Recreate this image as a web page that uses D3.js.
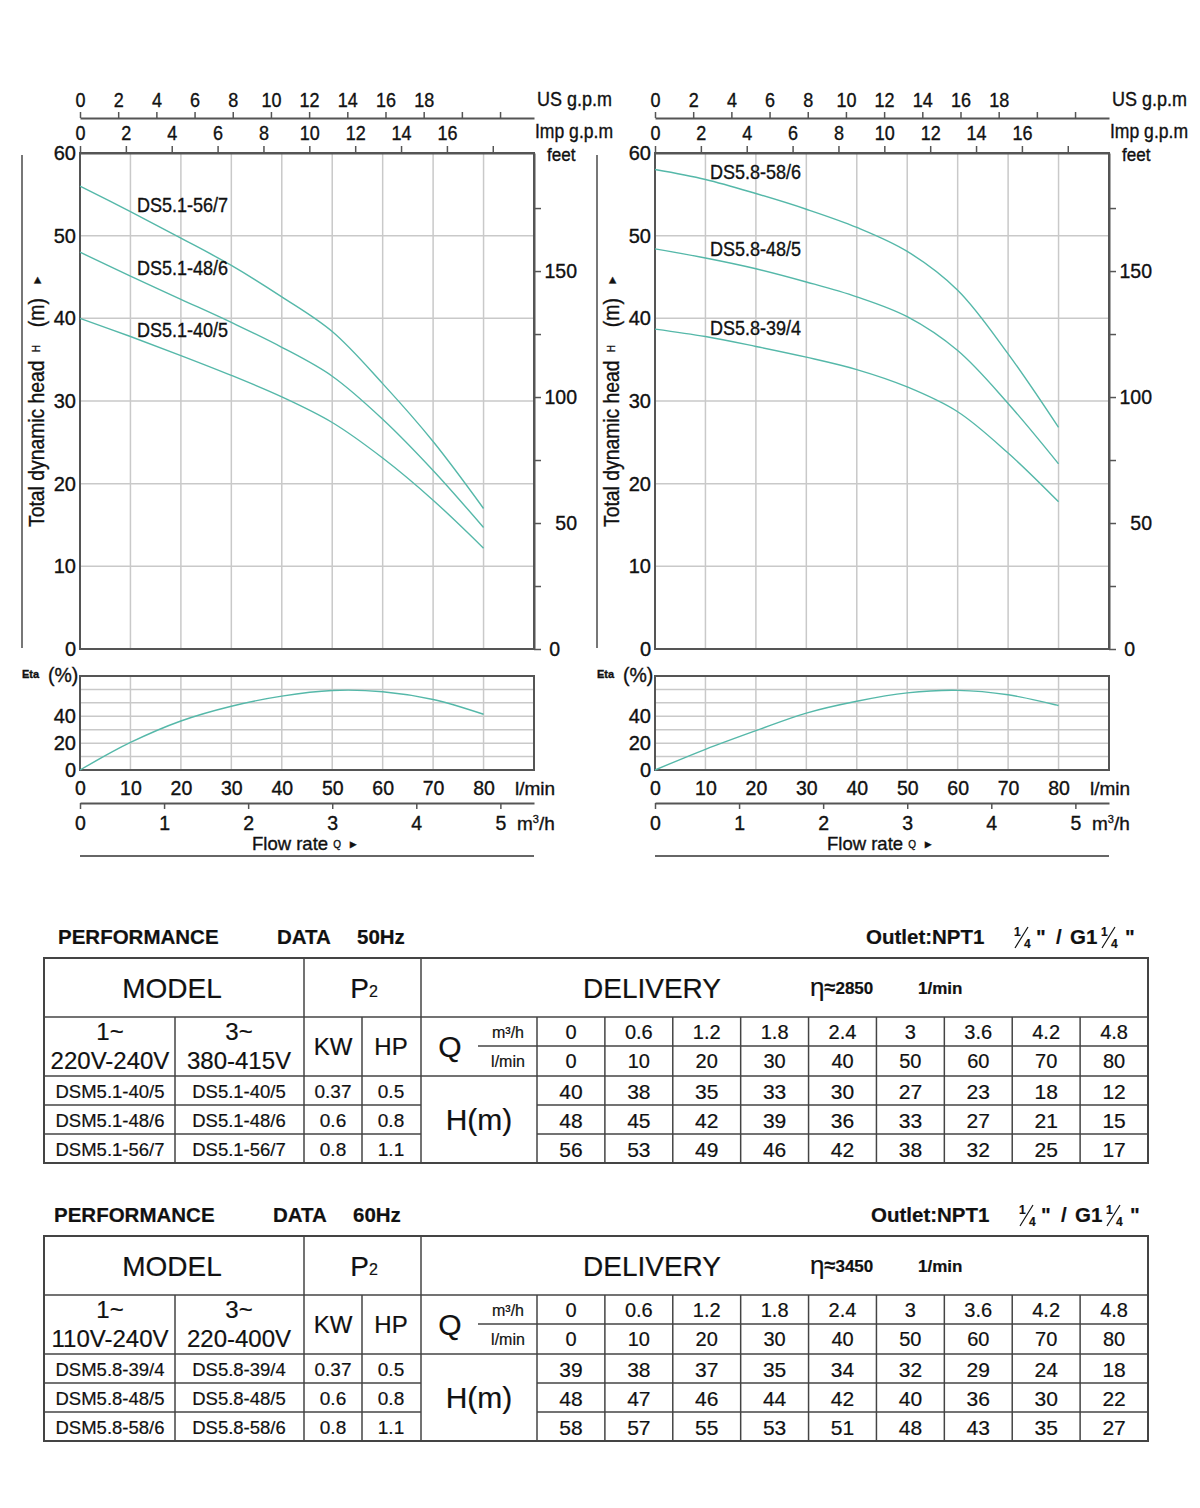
<!DOCTYPE html>
<html>
<head>
<meta charset="utf-8">
<script src="https://cdn.jsdelivr.net/npm/d3@7/dist/d3.min.js"></script>
<style>
  body { margin: 0; background: #fff; }
  svg text { font-family: "Liberation Sans", Arial, sans-serif; fill: #111; }
  .chart text { stroke: #111; stroke-width: 0.35px; }
  .table text { stroke: #111; stroke-width: 0.2px; }
</style>
</head>
<body>
<svg id="chart" width="1200" height="1508"></svg>
<script>
// ---- data ----
const flowLpm = [0, 10, 20, 30, 40, 50, 60, 70, 80];
const flowM3h = ["0", "0.6", "1.2", "1.8", "2.4", "3", "3.6", "4.2", "4.8"];

// 50 Hz
const models50 = ["DS5.1-40/5", "DS5.1-48/6", "DS5.1-56/7"];
const single50 = ["DSM5.1-40/5", "DSM5.1-48/6", "DSM5.1-56/7"];
const head50 = [                      // table values
  [40, 38, 35, 33, 30, 27, 23, 18, 12],
  [48, 45, 42, 39, 36, 33, 27, 21, 15],
  [56, 53, 49, 46, 42, 38, 32, 25, 17]
];
const curve50 = [
  [40, 37.8, 35.5, 33.1, 30.5, 27.4, 23.1, 18, 12.2],
  [48, 45.1, 42.3, 39.5, 36.5, 33, 27.8, 21.6, 14.7],
  [56, 52.9, 49.7, 46.4, 42.6, 38.4, 32.1, 25.1, 17]
];
const eta50 = [0, 20.5, 36.5, 47.5, 55, 59.2, 58.3, 52.5, 41.5];

// 60 Hz
const models60 = ["DS5.8-39/4", "DS5.8-48/5", "DS5.8-58/6"];
const single60 = ["DSM5.8-39/4", "DSM5.8-48/5", "DSM5.8-58/6"];
const head60 = [
  [39, 38, 37, 35, 34, 32, 29, 24, 18],
  [48, 47, 46, 44, 42, 40, 36, 30, 22],
  [58, 57, 55, 53, 51, 48, 43, 35, 27]
];
const curve60 = [
  [38.7, 37.8, 36.6, 35.3, 33.8, 31.7, 28.7, 23.7, 17.8],
  [48.4, 47.3, 46, 44.4, 42.6, 40.2, 36.1, 29.7, 22.4],
  [58, 56.8, 55.1, 53.2, 51, 48.1, 43.4, 35.7, 26.8]
];
const eta60 = [0, 15.4, 29.3, 42.4, 51.2, 57.4, 59.3, 56, 48];

const kwValues = ["0.37", "0.6", "0.8"];
const hpValues = ["0.5", "0.8", "1.1"];

const usTicks = [0, 2, 4, 6, 8, 10, 12, 14, 16, 18, 20, 22];
const impTicks = [0, 2, 4, 6, 8, 10, 12, 14, 16, 18];
const headTicks = [0, 10, 20, 30, 40, 50, 60];
const feetTicks = [0, 25, 50, 75, 100, 125, 150, 175];
const etaTicks = [0, 20, 40];
const m3hTicks = [0, 1, 2, 3, 4, 5];

const CURVE = "#55b8a9";
const GRID = "#c9c9c9";
const AXIS = "#555";
const NARROW = 0.9;

const svg = d3.select("#chart");

// squeeze text horizontally around its own x
function condense(sel) {
  sel.each(function () {
    const t = d3.select(this);
    const x = +t.attr("x") || 0;
    t.attr("transform", `translate(${x * (1 - NARROW)},0) scale(${NARROW},1)`);
  });
}

function styleAxis(sel, size) {
  sel.selectAll("text").style("font-size", size + "px").attr("fill", "#111");
  sel.selectAll("line").attr("stroke", AXIS).attr("stroke-width", 1.5);
  sel.select(".domain").attr("stroke", AXIS).attr("stroke-width", 2);
}

function drawChart(x0, curves, names, eta, labelPos) {
  const g = svg.append("g").attr("class", "chart");
  const W = 454;
  const x = d3.scaleLinear().domain([0, 90]).range([x0, x0 + W]);
  const y = d3.scaleLinear().domain([0, 60]).range([649, 153]);
  const yEta = d3.scaleLinear().domain([0, 70]).range([770, 676]);
  const us = d3.scaleLinear().domain([0, 90 / 3.785]).range([x0, x0 + W]);
  const imp = d3.scaleLinear().domain([0, 90 / 4.546]).range([x0, x0 + W]);
  const feet = d3.scaleLinear().domain([0, 60 * 3.28084]).range([649, 153]);
  const m3h = d3.scaleLinear().domain([0, 90 * 0.06]).range([x0, x0 + W]);

  // grid
  g.append("g").selectAll("line").data(d3.range(10, 90, 10)).join("line")
    .attr("x1", d => x(d)).attr("x2", d => x(d)).attr("y1", 153).attr("y2", 649)
    .attr("stroke", GRID).attr("stroke-width", 1.5);
  g.append("g").selectAll("line").data(d3.range(10, 60, 10)).join("line")
    .attr("x1", x0).attr("x2", x0 + W).attr("y1", d => y(d)).attr("y2", d => y(d))
    .attr("stroke", GRID).attr("stroke-width", 1.5);
  g.append("g").selectAll("line").data(d3.range(10, 90, 10)).join("line")
    .attr("x1", d => x(d)).attr("x2", d => x(d)).attr("y1", 676).attr("y2", 770)
    .attr("stroke", GRID).attr("stroke-width", 1.5);
  g.append("g").selectAll("line").data(d3.range(10, 70, 10)).join("line")
    .attr("x1", x0).attr("x2", x0 + W).attr("y1", d => yEta(d)).attr("y2", d => yEta(d))
    .attr("stroke", GRID).attr("stroke-width", 1.5);

  // frames
  g.append("rect").attr("x", x0).attr("y", 153).attr("width", W).attr("height", 496)
    .attr("fill", "none").attr("stroke", AXIS).attr("stroke-width", 2);
  g.append("rect").attr("x", x0).attr("y", 676).attr("width", W).attr("height", 94)
    .attr("fill", "none").attr("stroke", AXIS).attr("stroke-width", 2);

  // US gpm axis
  const aUs = g.append("g").attr("transform", "translate(0,118)")
    .call(d3.axisTop(us).tickValues(usTicks).tickSize(6).tickSizeOuter(0).tickPadding(5)
      .tickFormat(d => d <= 18 ? d : ""));
  styleAxis(aUs, 20);
  condense(aUs.selectAll("text"));
  condense(g.append("text").attr("x", x0 + 457).attr("y", 106).style("font-size", "20px").text("US g.p.m"));

  // Imp gpm axis
  const aImp = g.append("g").attr("transform", "translate(0,153)")
    .call(d3.axisTop(imp).tickValues(impTicks).tickSize(7).tickSizeOuter(0).tickPadding(6)
      .tickFormat(d => d <= 16 ? d : ""));
  styleAxis(aImp, 20);
  condense(aImp.selectAll("text"));
  condense(g.append("text").attr("x", x0 + 455).attr("y", 138).style("font-size", "19.5px").text("Imp g.p.m"));
  condense(g.append("text").attr("x", x0 + 467).attr("y", 161).style("font-size", "19px").text("feet"));

  // head axis
  const aH = g.append("g").attr("transform", `translate(${x0},0)`)
    .call(d3.axisLeft(y).tickValues(headTicks).tickSize(0).tickPadding(4));
  aH.select(".domain").remove();
  styleAxis(aH, 20);

  // feet axis
  const aF = g.append("g").attr("transform", `translate(${x0 + W},0)`)
    .call(d3.axisRight(feet).tickValues(feetTicks).tickSize(7).tickSizeOuter(0)
      .tickFormat(d => d % 50 === 0 ? d : ""));
  styleAxis(aF, 19.5);
  aF.selectAll("text").attr("text-anchor", "end").attr("x", d => d === 0 ? 26 : 43);

  // Eta axis
  const aE = g.append("g").attr("transform", `translate(${x0},0)`)
    .call(d3.axisLeft(yEta).tickValues(etaTicks).tickSize(0).tickPadding(4));
  aE.select(".domain").remove();
  styleAxis(aE, 20);

  // l/min labels
  const aL = g.append("g").attr("transform", "translate(0,770)")
    .call(d3.axisBottom(x).tickValues(flowLpm).tickSize(0).tickPadding(11));
  aL.select(".domain").remove();
  styleAxis(aL, 19.5);
  g.append("text").attr("x", x0 + 435).attr("y", 795).style("font-size", "19px").text("l/min");

  // m3/h axis
  const aM = g.append("g").attr("transform", "translate(0,803)")
    .call(d3.axisBottom(m3h).tickValues(m3hTicks).tickSize(6).tickSizeOuter(0).tickPadding(7)
      .tickFormat(d3.format("d")));
  styleAxis(aM, 19.5);
  const mt = g.append("text").attr("x", x0 + 437).attr("y", 830).style("font-size", "19px");
  mt.append("tspan").text("m");
  mt.append("tspan").attr("dy", -7).style("font-size", "11px").text("3");
  mt.append("tspan").attr("dy", 7).text("/h");

  // flow rate title
  const ft = g.append("text").attr("x", x0 + 172).attr("y", 850).style("font-size", "18.5px");
  ft.append("tspan").text("Flow rate ");
  ft.append("tspan").style("font-size", "10px").attr("dy", -2).text("Q ");
  ft.append("tspan").style("font-size", "11px").attr("dx", 4).text("►");
  g.append("line").attr("x1", x0).attr("x2", x0 + W).attr("y1", 856).attr("y2", 856)
    .attr("stroke", "#666").attr("stroke-width", 2);

  // side rule and head title
  g.append("line").attr("x1", x0 - 58).attr("x2", x0 - 58).attr("y1", 155).attr("y2", 648)
    .attr("stroke", "#777").attr("stroke-width", 2);
  const yt = g.append("text")
    .attr("transform", `translate(${x0 - 36},527) rotate(-90) scale(${NARROW},1)`)
    .style("font-size", "21.5px");
  yt.append("tspan").text("Total dynamic head");
  yt.append("tspan").style("font-size", "11px").attr("dy", -4).attr("dx", 9).text("H");
  yt.append("tspan").attr("dy", 4).attr("dx", 20).text("(m)");
  yt.append("tspan").style("font-size", "12px").attr("dx", 14).attr("dy", -3).text("►");

  // Eta label
  g.append("text").attr("x", x0 - 58).attr("y", 678).style("font-size", "11px")
    .style("font-weight", "bold").text("Eta");
  g.append("text").attr("x", x0 - 32).attr("y", 682).style("font-size", "19.5px").text("(%)");

  // curves
  const line = d3.line().x((d, i) => x(flowLpm[i])).y(d => y(d)).curve(d3.curveCatmullRom.alpha(0.5));
  g.append("g").selectAll("path").data(curves).join("path")
    .attr("d", line).attr("fill", "none").attr("stroke", CURVE).attr("stroke-width", 1.4);
  const etaLine = d3.line().x((d, i) => x(flowLpm[i])).y(d => yEta(d)).curve(d3.curveCatmullRom.alpha(0.5));
  g.append("path").datum(eta).attr("d", etaLine)
    .attr("fill", "none").attr("stroke", CURVE).attr("stroke-width", 1.4);

  const lbl = g.append("g").selectAll("text").data(names).join("text")
    .attr("x", x0 + labelPos[0]).attr("y", (d, i) => labelPos[1][i])
    .style("font-size", "20px").text(d => d);
  condense(lbl);
}

drawChart(80, curve50, models50, eta50, [57, [337, 275, 212]]);
drawChart(655, curve60, models60, eta60, [55, [335, 256, 179]]);

// ---- tables ----
function fraction(g, x, y) {
  const t = g.append("g").attr("transform", `translate(${x},${y})`);
  t.append("text").attr("x", 1).attr("y", -8).style("font-size", "12px").style("font-weight", "bold").text("1");
  t.append("line").attr("x1", 2).attr("y1", 4).attr("x2", 15).attr("y2", -17)
    .attr("stroke", "#111").attr("stroke-width", 1.2);
  t.append("text").attr("x", 11).attr("y", 4).style("font-size", "12px").style("font-weight", "bold").text("4");
}

function drawTable(top, hz, spec, volt1, volt3, singles, models, heads, xs) {
  const g = svg.append("g").attr("class", "table");
  const L = 44, R = 1148;
  const rows = [top, top + 59, top + 88, top + 118, top + 147, top + 176, top + 205];
  const dx = d3.scaleLinear().domain([0, 9]).range([537, R]);
  const bold = "bold";
  const B = (x, s) => g.append("text").attr("x", x).attr("y", top - 14)
    .style("font-size", "20.5px").style("font-weight", bold).text(s);

  // heading line
  B(xs[0], "PERFORMANCE");
  B(xs[0] + 219, "DATA");
  B(xs[0] + 299, hz);
  B(xs[1], "Outlet:NPT1");
  fraction(g, xs[1] + 147, top - 14);
  B(xs[1] + 170, "\"");
  B(xs[1] + 190, "/");
  B(xs[1] + 204, "G1");
  fraction(g, xs[1] + 234, top - 14);
  B(xs[1] + 259, "\"");

  const S = (x1, y1, x2, y2, w) => g.append("line").attr("x1", x1).attr("y1", y1).attr("x2", x2).attr("y2", y2)
    .attr("stroke", "#444").attr("stroke-width", w || 1.5);

  g.append("rect").attr("x", L).attr("y", top).attr("width", R - L).attr("height", 205)
    .attr("fill", "none").attr("stroke", "#444").attr("stroke-width", 2);
  S(L, rows[1], R, rows[1]);
  S(478, rows[2], R, rows[2]);
  S(L, rows[3], R, rows[3]);
  [rows[4], rows[5]].forEach(r => { S(L, r, 421, r); S(537, r, R, r); });
  S(175, rows[1], 175, rows[6]);
  S(304, rows[0], 304, rows[6]);
  S(362, rows[1], 362, rows[6]);
  S(421, rows[0], 421, rows[6]);
  d3.range(0, 9).forEach(i => S(dx(i), rows[1], dx(i), rows[6]));

  const T = (x, y, s, size, anchor, weight) => g.append("text").attr("x", x).attr("y", y)
    .attr("text-anchor", anchor || "middle").style("font-size", size + "px")
    .style("font-weight", weight || "normal").text(s);

  T(172, top + 40, "MODEL", 28);
  const p = g.append("text").attr("x", 364).attr("y", top + 40).attr("text-anchor", "middle").style("font-size", "28px");
  p.append("tspan").text("P");
  p.append("tspan").style("font-size", "16px").attr("dy", -1).text("2");
  T(652, top + 40, "DELIVERY", 28);
  const n = g.append("text").attr("x", 810).attr("y", top + 38).style("font-size", "26px");
  n.append("tspan").text("η");
  n.append("tspan").style("font-size", "20px").style("font-weight", bold).attr("dy", -2).text("≈");
  n.append("tspan").style("font-size", "17px").style("font-weight", bold).text(spec);
  T(918, top + 36, "1/min", 17, "start", bold);

  T(110, top + 82, "1~", 24);
  T(110, top + 111, volt1, 24);
  T(239, top + 82, "3~", 24);
  T(239, top + 111, volt3, 24);
  T(333, top + 97, "KW", 24);
  T(391, top + 97, "HP", 24);
  T(450, top + 99, "Q", 30);
  T(508, top + 80, "m³/h", 16);
  T(508, top + 109, "l/min", 16);

  flowM3h.forEach((v, i) => T((dx(i) + dx(i + 1)) / 2, top + 81, v, 20));
  flowLpm.forEach((v, i) => T((dx(i) + dx(i + 1)) / 2, top + 110, v, 20));

  T(479, top + 172, "H(m)", 30);
  [0, 1, 2].forEach(r => {
    const yb = (rows[3 + r] + rows[4 + r]) / 2 + 7;
    T(110, yb, singles[r], 18.5);
    T(239, yb, models[r], 18.5);
    T(333, yb, kwValues[r], 19);
    T(391, yb, hpValues[r], 19);
    heads[r].forEach((v, i) => T((dx(i) + dx(i + 1)) / 2, yb + 1, v, 21));
  });
}

drawTable(958, "50Hz", "2850", "220V-240V", "380-415V", single50, models50, head50, [58, 866]);
drawTable(1236, "60Hz", "3450", "110V-240V", "220-400V", single60, models60, head60, [54, 871]);
</script>
</body>
</html>
